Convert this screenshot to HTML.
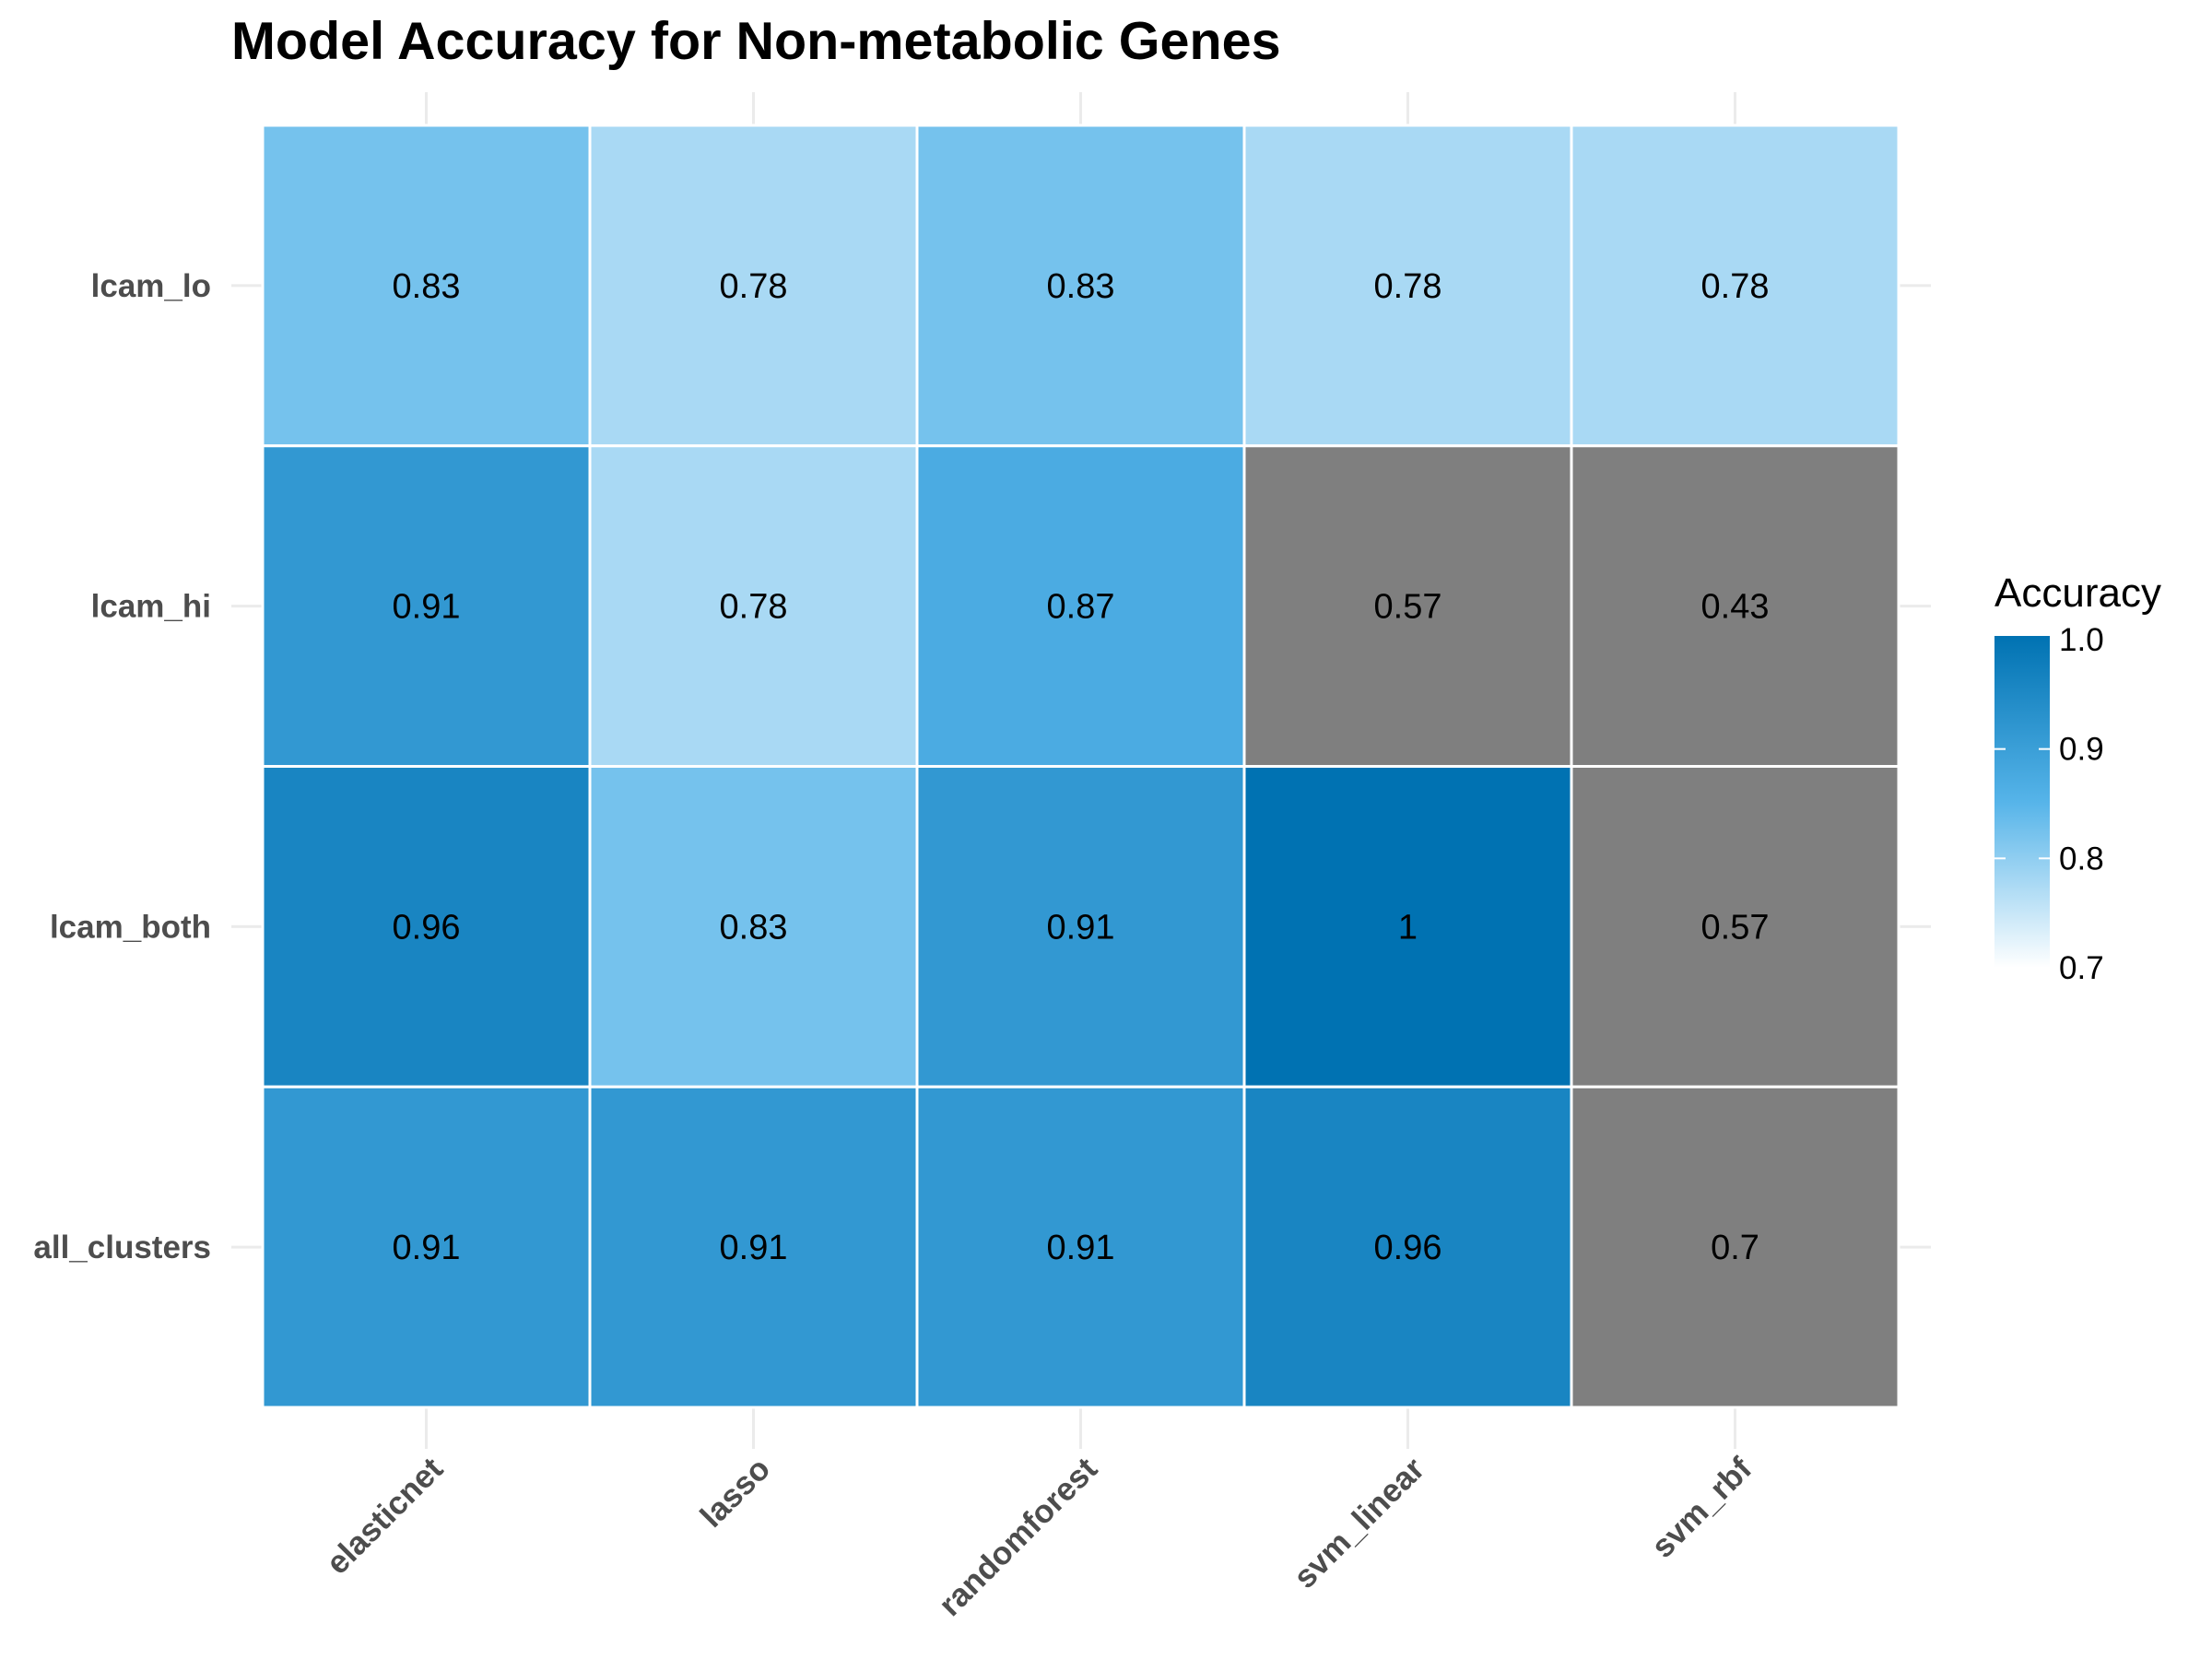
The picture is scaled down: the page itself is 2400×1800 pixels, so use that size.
<!DOCTYPE html>
<html><head><meta charset="utf-8"><style>
body{margin:0;background:#fff;}
svg{display:block;font-family:"Liberation Sans",Arial,sans-serif;}
</style></head><body>
<svg id="chart" width="2400" height="1800" viewBox="0 0 2400 1800">
<text x="251" y="64" font-size="57.5" font-weight="bold" fill="#000">Model Accuracy for Non-metabolic Genes</text>
<g id="grid"></g><g id="cells"></g><g id="labels"></g>
<g>
<defs><linearGradient id="lg" x1="0" y1="1" x2="0" y2="0">
<stop offset="0" stop-color="#ffffff"/><stop offset="0.5" stop-color="#56b4e9"/><stop offset="1" stop-color="#0072b2"/></linearGradient></defs>
<text x="2164" y="658" font-size="44" fill="#000">Accuracy</text>
<rect x="2164" y="690" width="60" height="360" fill="url(#lg)"/>
<g id="legticks"></g>
</g>
</svg>
<script>
const models = ["elasticnet","lasso","randomforest","svm_linear","svm_rbf"];
const clusters = ["lcam_lo","lcam_hi","lcam_both","all_clusters"];
const rowLcamLo = [0.826,0.783,0.826,0.783,0.783];
const rowLcamHi = [0.913,0.783,0.870,0.567,0.433];
const rowLcamBoth = [0.957,0.826,0.913,1.0,0.567];
const rowAllClusters = [0.913,0.913,0.913,0.957,0.696];
const legendTicks = [0.7,0.8,0.9,1.0];
const legendTickLabels = ["0.7","0.8","0.9","1.0"];
const values = [rowLcamLo,rowLcamHi,rowLcamBoth,rowAllClusters];
const NS="http://www.w3.org/2000/svg";
const X0=285,X1=2060,Y0=136,Y1=1527;
const cw=(X1-X0)/models.length, ch=(Y1-Y0)/clusters.length;
const xC=i=>X0+cw*(i+0.5), yC=j=>Y0+ch*(j+0.5);
const lo=0.7,hi=1.0;
function lerp(a,b,t){return a.map((v,k)=>Math.round(v+(b[k]-v)*t));}
function color(v){
  if(v<lo||v>hi) return "#7f7f7f";
  const t=(v-lo)/(hi-lo);
  const c= t<0.5? lerp([255,255,255],[86,180,233],Math.pow(t/0.5,1.15)): lerp([86,180,233],[0,114,178],(t-0.5)/0.5);
  return "rgb("+c.join(",")+")";
}
function mk(tag,attrs,parent){const e=document.createElementNS(NS,tag);for(const k in attrs)e.setAttribute(k,attrs[k]);parent.appendChild(e);return e;}
const grid=document.getElementById("grid"),cells=document.getElementById("cells"),labels=document.getElementById("labels");
models.forEach((m,i)=>{
  const l=mk("line",{x1:xC(i),x2:xC(i),y1:100,y2:1572,stroke:"#ebebeb","stroke-width":3},grid);
  
  
  const t=mk("text",{x:xC(i)+20,y:1596,"font-size":35,"font-weight":"bold",fill:"#4d4d4d","text-anchor":"end",transform:"rotate(-45 "+(xC(i)+20)+" 1596)"},labels);
  t.textContent=m;
  
  
});
clusters.forEach((c,j)=>{
  const l=mk("line",{x1:251,x2:2095,y1:yC(j),y2:yC(j),stroke:"#ebebeb","stroke-width":3},grid);
  
  
  const t=mk("text",{x:229,y:yC(j)+12,"font-size":35,"font-weight":"bold",fill:"#4d4d4d","text-anchor":"end"},labels);
  t.textContent=c;
  
  
});
values.forEach((row,j)=>row.forEach((v,i)=>{
  const r=mk("rect",{x:X0+cw*i,y:Y0+ch*j,width:cw,height:ch,fill:color(v),stroke:"#fff","stroke-width":3},cells);
  
  
  const t=mk("text",{x:xC(i),y:yC(j)+13,"font-size":38,fill:"#000","text-anchor":"middle"},cells);
  t.textContent=String(Number(v.toFixed(2)));
  
  
}));
const lt=document.getElementById("legticks");
const LB0=1050,LB1=694;
legendTicks.forEach((v,k)=>{
  const y=LB0+(v-lo)/(hi-lo)*(LB1-LB0);
  if(k>0&&k<legendTicks.length-1){
    const a=mk("line",{x1:2164,x2:2176,y1:y,y2:y,stroke:"#fff","stroke-width":2},lt);
    
    
    const b=mk("line",{x1:2212,x2:2224,y1:y,y2:y,stroke:"#fff","stroke-width":2},lt);
    
    
  }
  const t=mk("text",{x:2234,y:y+12,"font-size":35,fill:"#000"},lt);
  t.textContent=legendTickLabels[k];
  
  
});
</script>
</body></html>
